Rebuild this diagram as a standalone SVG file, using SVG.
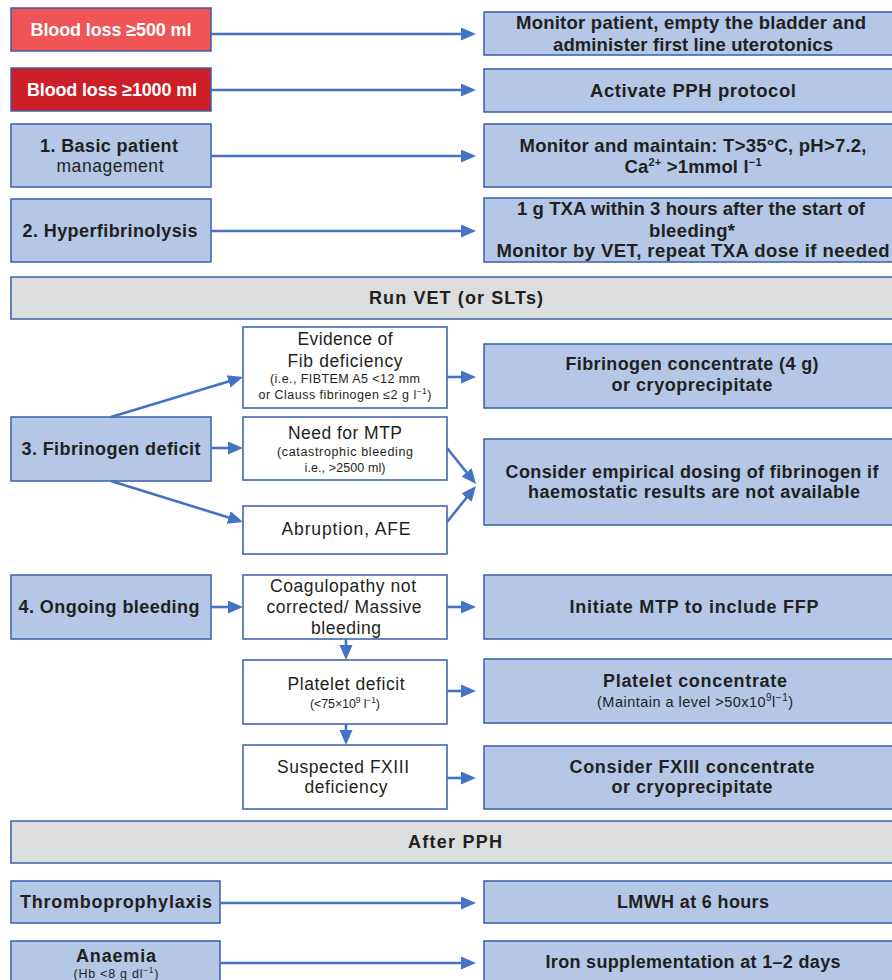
<svg xmlns="http://www.w3.org/2000/svg" width="892" height="980" viewBox="0 0 892 980">
<defs>
<marker id="ah" markerUnits="userSpaceOnUse" markerWidth="16" markerHeight="14" refX="5" refY="6.5" orient="auto">
<path d="M0,0 L15,6.5 L0,13 z" fill="#4472C4"/>
</marker>
<style>
.t{font-family:"Liberation Sans",Arial,Helvetica,sans-serif;fill:#231F20;text-anchor:middle}
.b{font-weight:bold}
.w{fill:#FFFFFF}
.s17{font-size:18px}
.s18{font-size:18.5px}
.r17{font-size:17.5px}
.s11{font-size:12.5px}
.s14{font-size:14.5px}
.blue{fill:#B4C7E7;stroke:#4268AE;stroke-width:1.6}
.wht{fill:#FFFFFF;stroke:#4268AE;stroke-width:1.6}
.gray{fill:#DCDDDF;stroke:#4268AE;stroke-width:1.6}
.c{stroke:#4472C4;stroke-width:2.6;fill:none;marker-end:url(#ah)}
</style>
</defs>
<rect width="892" height="980" fill="#FFFFFF"/>

<g id="n-bl500"><rect x="11" y="8" width="200" height="43" fill="#EF5456" stroke="#3D5FA8" stroke-width="1.5"/>
<text class="t b w s17" x="111" y="36" textLength="161">Blood loss ≥500 ml</text></g>
<g id="n-bl1000"><rect x="11" y="68" width="200" height="43" fill="#CC1F27" stroke="#3D5FA8" stroke-width="1.5"/>
<text class="t b w s17" x="112" y="96" textLength="170">Blood loss ≥1000 ml</text></g>
<g id="n-basic"><rect class="blue" x="11" y="124" width="200" height="63"/>
<text class="t b s17" x="109" y="152" textLength="138">1. Basic patient</text>
<text class="t r17" x="110" y="172" textLength="107">management</text></g>
<g id="n-hyper"><rect class="blue" x="11" y="199" width="200" height="63"/>
<text class="t b s17" x="110" y="237" textLength="175">2. Hyperfibrinolysis</text></g>

<g id="n-monitor"><rect class="blue" x="484" y="12" width="420" height="43"/>
<text class="t b s18" x="691" y="29" textLength="350">Monitor patient, empty the bladder and</text>
<text class="t b s18" x="693" y="51" textLength="280">administer first line uterotonics</text></g>
<g id="n-activate"><rect class="blue" x="484" y="69" width="420" height="43"/>
<text class="t b s18" x="693" y="97" textLength="206">Activate PPH protocol</text></g>
<g id="n-maintain"><rect class="blue" x="484" y="124" width="420" height="63"/>
<text class="t b s18" x="693" y="152" textLength="347">Monitor and maintain: T&gt;35°C, pH&gt;7.2,</text>
<text class="t b s18" x="693" y="173" textLength="137">Ca<tspan font-size="11" dy="-7">2+</tspan><tspan dy="7"> &gt;1mmol l</tspan><tspan font-size="11" dy="-7">−1</tspan></text></g>
<g id="n-txa"><rect class="blue" x="484" y="198" width="420" height="64"/>
<text class="t b s18" x="691" y="215" textLength="348">1 g TXA within 3 hours after the start of</text>
<text class="t b s18" x="692" y="237" textLength="86">bleeding*</text>
<text class="t b s18" x="693" y="257" textLength="393">Monitor by VET, repeat TXA dose if needed</text></g>

<g id="n-runvet"><rect class="gray" x="11" y="277" width="900" height="42"/>
<text class="t b s17" x="456" y="304" textLength="174">Run VET (or SLTs)</text></g>

<g id="n-fib"><rect class="blue" x="11" y="417" width="200" height="64"/>
<text class="t b s17" x="111" y="455" textLength="179">3. Fibrinogen deficit</text></g>
<g id="n-evid"><rect class="wht" x="243" y="327" width="204" height="81"/>
<text class="t r17" x="345" y="345" textLength="95">Evidence of</text>
<text class="t r17" x="345" y="367" textLength="115">Fib deficiency</text>
<text class="t s11" x="345" y="383" textLength="150">(i.e., FIBTEM A5 &lt;12 mm</text>
<text class="t s11" x="345" y="399" textLength="173">or Clauss fibrinogen ≤2 g l<tspan font-size="8.5" dy="-5">−1</tspan><tspan dy="5">)</tspan></text></g>
<g id="n-mtp"><rect class="wht" x="243" y="417" width="204" height="63"/>
<text class="t r17" x="345" y="439" textLength="114">Need for MTP</text>
<text class="t s11" x="345" y="456" textLength="136">(catastrophic bleeding</text>
<text class="t s11" x="345" y="472" textLength="81">i.e., &gt;2500 ml)</text></g>
<g id="n-abr"><rect class="wht" x="243" y="506" width="204" height="48"/>
<text class="t r17" x="346" y="535" textLength="129">Abruption, AFE</text></g>
<g id="n-fibconc"><rect class="blue" x="484" y="344" width="420" height="64"/>
<text class="t b s17" x="692" y="370" textLength="253">Fibrinogen concentrate (4 g)</text>
<text class="t b s17" x="692" y="391" textLength="161">or cryoprecipitate</text></g>
<g id="n-empir"><rect class="blue" x="484" y="439" width="420" height="86"/>
<text class="t b s17" x="692" y="478" textLength="373">Consider empirical dosing of fibrinogen if</text>
<text class="t b s17" x="694" y="498" textLength="332">haemostatic results are not available</text></g>

<g id="n-ongo"><rect class="blue" x="11" y="575" width="200" height="64"/>
<text class="t b s17" x="109" y="613" textLength="181">4. Ongoing bleeding</text></g>
<g id="n-coag"><rect class="wht" x="243" y="575" width="204" height="64"/>
<text class="t r17" x="343" y="592" textLength="146">Coagulopathy not</text>
<text class="t r17" x="344" y="613" textLength="155">corrected/ Massive</text>
<text class="t r17" x="346" y="634" textLength="70">bleeding</text></g>
<g id="n-plt"><rect class="wht" x="243" y="660" width="204" height="64"/>
<text class="t r17" x="346" y="690" textLength="117">Platelet deficit</text>
<text class="t s11" x="345" y="708" textLength="70">(&lt;75×10<tspan font-size="8.5" dy="-5">9</tspan><tspan dy="5"> l</tspan><tspan font-size="8.5" dy="-5">−1</tspan><tspan dy="5">)</tspan></text></g>
<g id="n-f13"><rect class="wht" x="243" y="745" width="204" height="64"/>
<text class="t r17" x="343" y="773" textLength="132">Suspected FXIII</text>
<text class="t r17" x="346" y="793" textLength="83">deficiency</text></g>
<g id="n-ffp"><rect class="blue" x="484" y="575" width="420" height="64"/>
<text class="t b s17" x="694" y="613" textLength="249">Initiate MTP to include FFP</text></g>
<g id="n-pltc"><rect class="blue" x="484" y="659" width="420" height="64"/>
<text class="t b s17" x="695" y="687" textLength="184">Platelet concentrate</text>
<text class="t s14" x="695" y="707" textLength="196">(Maintain a level &gt;50x10<tspan font-size="10" dy="-6">9</tspan><tspan dy="6">l</tspan><tspan font-size="10" dy="-6">−1</tspan><tspan dy="6">)</tspan></text></g>
<g id="n-f13c"><rect class="blue" x="484" y="746" width="420" height="63"/>
<text class="t b s17" x="692" y="773" textLength="245">Consider FXIII concentrate</text>
<text class="t b s17" x="692" y="793" textLength="161">or cryoprecipitate</text></g>

<g id="n-after"><rect class="gray" x="11" y="821" width="900" height="42"/>
<text class="t b s17" x="455" y="848" textLength="94">After PPH</text></g>
<g id="n-thromb"><rect class="blue" x="11" y="881" width="209" height="42"/>
<text class="t b s17" x="116" y="908" textLength="192">Thromboprophylaxis</text></g>
<g id="n-lmwh"><rect class="blue" x="484" y="881" width="420" height="42"/>
<text class="t b s17" x="693" y="908" textLength="152">LMWH at 6 hours</text></g>
<g id="n-anaem"><rect class="blue" x="11" y="941" width="209" height="50"/>
<text class="t b s17" x="116" y="962" textLength="80">Anaemia</text>
<text class="t s11" x="116" y="978" textLength="85">(Hb &lt;8 g dl<tspan font-size="8.5" dy="-5">−1</tspan><tspan dy="5">)</tspan></text></g>
<g id="n-iron"><rect class="blue" x="484" y="941" width="420" height="50"/>
<text class="t b s17" x="693" y="968" textLength="295">Iron supplementation at 1–2 days</text></g>

<g id="connectors">
<line class="c" x1="211" y1="34" x2="466" y2="34"/>
<line class="c" x1="211" y1="90" x2="466" y2="90"/>
<line class="c" x1="211" y1="156" x2="466" y2="156"/>
<line class="c" x1="211" y1="231" x2="466" y2="231"/>
<line class="c" x1="111" y1="417" x2="233.4" y2="379.9"/>
<line class="c" x1="211" y1="448" x2="233" y2="448"/>
<line class="c" x1="111" y1="481" x2="233.5" y2="519"/>
<line class="c" x1="447" y1="377" x2="466" y2="377"/>
<line class="c" x1="447" y1="448" x2="469.7" y2="476.2"/>
<line class="c" x1="447" y1="522" x2="469.7" y2="493.8"/>
<line class="c" x1="211" y1="607" x2="233" y2="607"/>
<line class="c" x1="447" y1="607" x2="466" y2="607"/>
<line class="c" x1="346" y1="639" x2="346" y2="650"/>
<line class="c" x1="447" y1="691" x2="466" y2="691"/>
<line class="c" x1="346" y1="724" x2="346" y2="735"/>
<line class="c" x1="447" y1="778" x2="466" y2="778"/>
<line class="c" x1="220" y1="903" x2="466" y2="903"/>
<line class="c" x1="220" y1="963" x2="466" y2="963"/>
</g>
</svg>
